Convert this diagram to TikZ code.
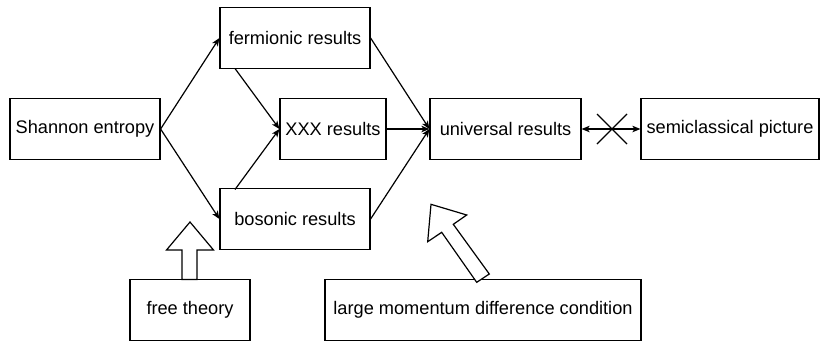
\documentclass[tikz,border=0pt]{standalone}
\usepackage{fontspec}
\setmainfont{Liberation Sans}
\usetikzlibrary{arrows.meta}
\begin{document}
\begin{tikzpicture}[x=1pt,y=-1pt,
  box/.style={draw,line width=1.2pt,minimum height=61pt,inner sep=0pt,font=\fontsize{18.2}{21}\selectfont},
  conn/.style={line width=1.2pt,-{Stealth[length=8pt,width=6.5pt,inset=2pt]}},
  hollow/.style={draw,line width=1.2pt,fill=white,line join=miter}]
\useasboundingbox (0,0) rectangle (820,341);
\node[box,minimum width=150pt] (sh) at (85,129) {Shannon entropy};
\node[box,minimum width=150pt] (fe) at (295,38) {fermionic results};
\node[box,minimum width=106pt] (xx) at (333,129) {XXX results};
\node[box,minimum width=150pt] (bo) at (295,219) {bosonic results};
\node[box,minimum width=151pt] (un) at (505.5,129) {universal results};
\node[box,minimum width=178pt] (se) at (730,129) {semiclassical picture};
\node[box,minimum width=120pt] (ft) at (190,310) {free theory};
\node[box,minimum width=316pt] (lm) at (483,310) {large momentum difference condition};
\coordinate (febl) at (235,68.5);
\coordinate (botl) at (235,189.5);
\draw[conn] (sh.east) -- (fe.west);
\draw[conn] (sh.east) -- (bo.west);
\draw[conn] (febl) -- (xx.west);
\draw[conn] (botl) -- (xx.west);
\draw[conn] (fe.east) -- (un.west);
\draw[conn] (xx.east) -- (un.west);
\draw[conn] (bo.east) -- (un.west);
\draw[line width=1.2pt,{Stealth[length=8pt,width=6.5pt,inset=2pt]}-{Stealth[length=8pt,width=6.5pt,inset=2pt]}] (un.east) -- (se.west);
\coordinate (xc) at (612,129);
\draw[line width=1.2pt] ([shift={(-15,-15)}]xc) -- ([shift={(15,15)}]xc)
  ([shift={(-15,15)}]xc) -- ([shift={(15,-15)}]xc);
\path[hollow] (182,279.5) -- (182,250) -- (166.5,250) -- (190,222) -- (213.5,250) -- (197,250) -- (197,279.5) -- cycle;
\path[hollow] (476.7,282.3) -- (441.7,232.3) -- (427.7,241.7) -- (431,204.3) -- (466.7,215) -- (453.3,224.3) -- (489.3,274) -- cycle;
\end{tikzpicture}
\end{document}
